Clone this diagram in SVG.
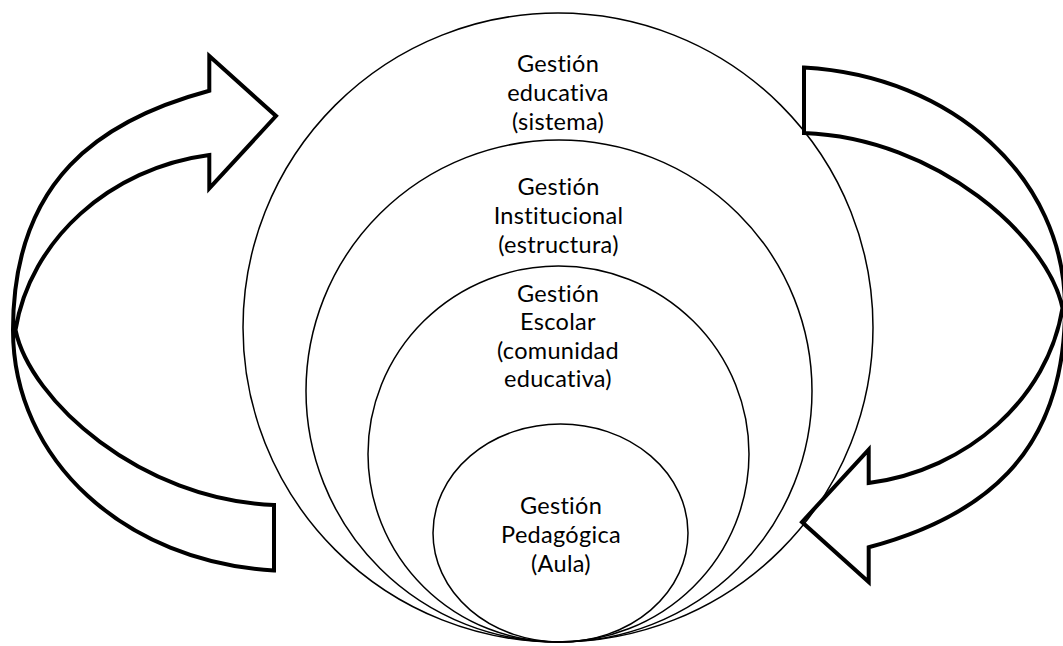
<svg xmlns="http://www.w3.org/2000/svg" xmlns:xlink="http://www.w3.org/1999/xlink" width="1063" height="646" viewBox="0 0 1063 646">
  <style>
    .ring { fill: none; stroke: #000; stroke-width: 1.5; }
    .arrow { fill: none; stroke: #000; stroke-width: 4; stroke-linejoin: miter; stroke-miterlimit: 10; }
    .lbl { font-family: Lato, "Open Sans", "Liberation Sans", sans-serif; font-size: 23.5px; letter-spacing: 0.3px; font-variant-ligatures: none; font-feature-settings: "liga" 0; fill: #000; text-anchor: middle; }
  </style>
  <defs>
    <path id="curvedArrow" class="arrow" d="M274,570.5 C125,562 13,460 13,330 C13,180 100,120 209.3,90.7 L209.3,56 L276,116 L209.3,188.3 L209.3,155 C110,168 30,240 15.5,330 C30,400 140,500 274,505 Z"/>
  </defs>
  <rect width="1063" height="646" fill="#fff"/>

  <g id="node-educativa">
    <ellipse class="ring" cx="558" cy="327.5" rx="315" ry="314.5"/>
    <text class="lbl" x="558" y="72">Gestión</text>
    <text class="lbl" x="558" y="101">educativa</text>
    <text class="lbl" x="558" y="130">(sistema)</text>
  </g>
  <g id="node-institucional">
    <ellipse class="ring" cx="559" cy="391" rx="253" ry="251"/>
    <text class="lbl" x="558.5" y="195">Gestión</text>
    <text class="lbl" x="558.5" y="224">Institucional</text>
    <text class="lbl" x="558.5" y="253">(estructura)</text>
  </g>
  <g id="node-escolar">
    <ellipse class="ring" cx="558.5" cy="454" rx="190.5" ry="188"/>
    <text class="lbl" x="558" y="301.5">Gestión</text>
    <text class="lbl" x="558" y="330">Escolar</text>
    <text class="lbl" x="558" y="358.5">(comunidad</text>
    <text class="lbl" x="558" y="387">educativa)</text>
  </g>
  <g id="node-pedagogica">
    <ellipse class="ring" cx="560.5" cy="533" rx="127.5" ry="109"/>
    <text class="lbl" x="561" y="514">Gestión</text>
    <text class="lbl" x="561" y="543">Pedagógica</text>
    <text class="lbl" x="561" y="572">(Aula)</text>
  </g>

  <g id="connectors">
    <use id="arrow-left" xlink:href="#curvedArrow" href="#curvedArrow"/>
    <use id="arrow-right" xlink:href="#curvedArrow" href="#curvedArrow" transform="rotate(180 539 319)"/>
  </g>
</svg>
